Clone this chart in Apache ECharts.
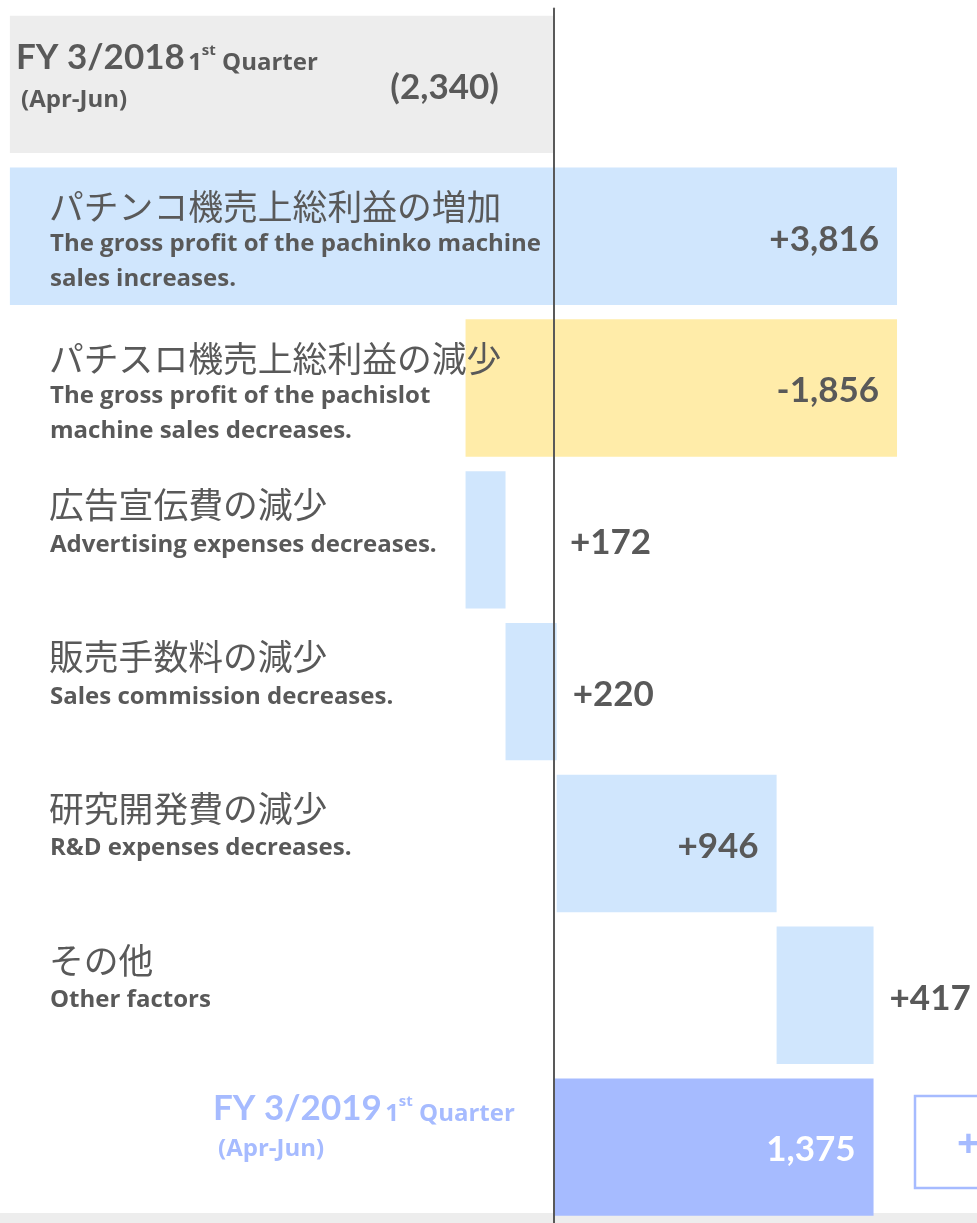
<!DOCTYPE html>
<html><head><meta charset="utf-8">
<script src="https://cdn.jsdelivr.net/npm/echarts@6/dist/echarts.min.js"></script>
<style>html,body{margin:0;padding:0;background:#fff}#c{width:977px;height:1223px}</style>
</head><body><div id="c"></div>
<script>
const categories = ['FY 3/2018 1Q', 'Pachinko', 'Pachislot', 'Advertising', 'Commission', 'R&D', 'Other', 'FY 3/2019 1Q'];
const labelsJa = ['', 'パチンコ機売上総利益の増加', 'パチスロ機売上総利益の減少', '広告宣伝費の減少', '販売手数料の減少', '研究開発費の減少', 'その他', ''];
const labelsEn = [
  ['(Apr-Jun)'],
  ['The gross profit of the pachinko machine', 'sales increases.'],
  ['The gross profit of the pachislot', 'machine sales decreases.'],
  ['Advertising expenses decreases.'],
  ['Sales commission decreases.'],
  ['R&D expenses decreases.'],
  ['Other factors'],
  ['(Apr-Jun)']
];
const periodTitles = ['FY 3/2018', 'FY 3/2019'];
const quarterText = ['1', 'st', ' Quarter'];
const startValue = -2340;
const changes = [3816, -1856, 172, 220, 946, 417];
const endValue = 1375;
const valueLabels = ['(2,340)', '+3,816', '-1,856', '+172', '+220', '+946', '+417', '1,375'];

// build waterfall rows [index, from, to, kind]
const rows = [[0, startValue, 0, 'start']];
let run = startValue;
changes.forEach((d, i) => {
  rows.push([i + 1, run, run + d, d >= 0 ? 'up' : 'down']);
  run += d;
});
rows.push([categories.length - 1, 0, endValue, 'end']);

const COLORS = {start: '#ededed', up: '#d0e6fd', down: '#ffeca9', end: '#a6bbff'};
const TXT = '#595959';
const LAT = 'Lato, "Open Sans", sans-serif';
const OS = '"Open Sans", Lato, sans-serif';
const JP = '"Noto Sans CJK JP", sans-serif';

function titleRich(title) {
  return '{a|' + title + '} {b|' + quarterText[0] + '}{s|' + quarterText[1] + '}{b|' + quarterText[2] + '}';
}

function renderItem(params, api) {
  const idx = api.value(0);
  const a = api.value(1), b = api.value(2);
  const kind = rows[params.dataIndex][3];
  const p1 = api.coord([Math.min(a, b), idx]);
  const p2 = api.coord([Math.max(a, b), idx]);
  const z0 = api.coord([0, idx])[0];
  const band = api.size([0, 1])[1];
  const h = band * 0.905;
  const cy = p1[1];
  const children = [{
    type: 'rect',
    shape: {x: p1[0], y: cy - h / 2, width: p2[0] - p1[0], height: h},
    style: {fill: COLORS[kind]}
  }];
  const w = p2[0] - p1[0];
  // value label
  let vx, align;
  if (kind === 'start') { vx = z0 - 55; align = 'right'; }
  else if (w > 150) { vx = p2[0] - 18; align = 'right'; }
  else { vx = Math.max(p2[0], z0) + 16; align = 'left'; }
  children.push({
    type: 'text',
    style: {text: valueLabels[idx], x: vx, y: cy + 3, align: align, verticalAlign: 'middle',
      fill: kind === 'end' ? '#ffffff' : TXT, fontFamily: LAT, fontWeight: 'bold', fontSize: 35}
  });
  const rich = {
    a: {fontFamily: LAT, fontWeight: 'bold', fontSize: 35, verticalAlign: 'bottom'},
    b: {fontFamily: OS, fontWeight: 'bold', fontSize: 24, verticalAlign: 'bottom', padding: [0, 0, 0, 0]},
    s: {fontFamily: OS, fontWeight: 'bold', fontSize: 15, verticalAlign: 'top', padding: [3, 0, 0, 0]}
  };
  if (kind === 'start' || kind === 'end') {
    const isStart = kind === 'start';
    const col = isStart ? TXT : '#a6bbff';
    const tx = isStart ? 16 : 213;
    const ty = isStart ? cy - 27 : cy - 38;
    const ey = isStart ? cy + 16 : cy + 2;
    children.push({
      type: 'text',
      style: {text: titleRich(periodTitles[isStart ? 0 : 1]), x: tx, y: ty, align: 'left', verticalAlign: 'middle',
        fill: col, rich: rich}
    });
    children.push({
      type: 'text',
      style: {text: labelsEn[idx][0], x: tx + 5, y: ey, align: 'left', verticalAlign: 'middle',
        fill: col, fontFamily: OS, fontWeight: 'bold', fontSize: 24}
    });
  } else {
    const en = labelsEn[idx];
    const two = en.length > 1;
    const jy = two ? cy - 29 : cy - 35;
    children.push({
      type: 'text',
      style: {text: labelsJa[idx], x: 49, y: jy, align: 'left', verticalAlign: 'middle',
        fill: TXT, fontFamily: JP, fontWeight: 'normal', fontSize: 34.8}
    });
    en.forEach((line, k) => {
      children.push({
        type: 'text',
        style: {text: line, x: 50, y: (two ? cy + 8 : cy + 5) + k * 35, align: 'left', verticalAlign: 'middle',
          fill: TXT, fontFamily: OS, fontWeight: 'bold', fontSize: 24}
      });
    });
  }
  return {type: 'group', children: children};
}

const chart = echarts.init(document.getElementById('c'), null, {renderer: 'canvas'});
chart.setOption({
  backgroundColor: '#ffffff',
  animation: false,
  grid: {left: 0.6, top: 8.5, width: 977.4, height: 1216, containLabel: false},
  xAxis: {
    type: 'value', min: -2380, max: 1820,
    axisLine: {show: false}, axisTick: {show: false}, axisLabel: {show: false}, splitLine: {show: false}
  },
  yAxis: {
    type: 'category', data: categories, inverse: true, z: 10,
    axisLine: {show: true, onZero: true, lineStyle: {color: '#595959', width: 2}},
    axisTick: {show: false}, axisLabel: {show: false}, splitLine: {show: false}
  },
  graphic: [
    {type: 'rect', left: 0, top: 1213, z: 0, shape: {width: 977, height: 10}, style: {fill: '#ededed'}},
    {type: 'rect', z: 0, shape: {x: 915, y: 1096, width: 80, height: 92}, style: {fill: 'none', stroke: '#a6bbff', lineWidth: 2.5}},
    {type: 'text', z: 0, x: 957, y: 1146, style: {text: '+', fill: '#a6bbff', fontFamily: OS, fontWeight: 'bold', fontSize: 40, verticalAlign: 'middle'}}
  ],
  series: [{
    type: 'custom',
    renderItem: renderItem,
    clip: false,
    encode: {x: [1, 2], y: 0},
    data: rows.map(r => [r[0], r[1], r[2]]),
    z: 2
  }]
});
</script>
</body></html>
